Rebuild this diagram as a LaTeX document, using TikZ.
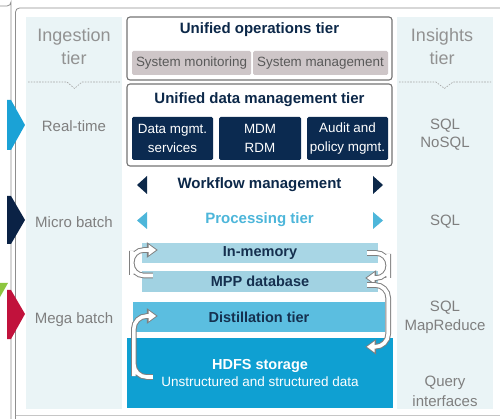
\documentclass[tikz,border=0pt]{standalone}
\usepackage{fontspec}
\setmainfont{Liberation Sans}
\usetikzlibrary{calc,arrows.meta}

\definecolor{panelbg}{HTML}{EAF4F6}
\definecolor{lblgray}{HTML}{7F7F7F}
\definecolor{navytxt}{HTML}{0C2849}
\definecolor{dknavy}{HTML}{0B2A50}
\definecolor{opsgray}{HTML}{CEC6C8}
\definecolor{opstxt}{HTML}{595959}
\definecolor{boxline}{HTML}{747474}
\definecolor{proccyan}{HTML}{4DB6DA}
\definecolor{barlight}{HTML}{A8D6E5}
\definecolor{barmpp}{HTML}{A1D2E2}
\definecolor{bardist}{HTML}{5BBEE0}
\definecolor{barhdfs}{HTML}{0FA0D2}
\definecolor{bartxt}{HTML}{15304F}
\definecolor{chcyan}{HTML}{1BA2D6}
\definecolor{chnavy}{HTML}{0A2245}
\definecolor{chred}{HTML}{C1123C}
\definecolor{chgreen}{HTML}{8DC63F}
\definecolor{framegray}{HTML}{8E8E8E}
\definecolor{arrowgray}{HTML}{808080}

\newcommand\fsz[2]{\fontsize{#1}{#2}\selectfont}

\tikzset{
  panel/.style={fill=panelbg, draw=none, inner sep=0pt},
  tierhead/.style={text=lblgray!85, font=\fsz{18}{23}, align=center, inner sep=0pt},
  lbl/.style={text=lblgray, font=\fsz{15}{19}, align=center, inner sep=0pt},
  tierbox/.style={draw=boxline, line width=1.1pt, rounded corners=3pt, fill=white, inner sep=0pt},
  ttl/.style={text=navytxt, font=\bfseries\fsz{15}{18}, inner sep=0pt},
  opsbox/.style={fill=opsgray, rounded corners=1.5pt, text=opstxt, font=\fsz{13.4}{16}, inner sep=0pt},
  dkbox/.style={fill=dknavy, rounded corners=1.5pt, text=white, font=\fsz{13.4}{19}, align=center, inner sep=0pt},
  bar/.style={inner sep=0pt, text=bartxt, font=\bfseries\fsz{14.5}{18}},
  divider/.style={draw=lblgray!70, line width=0.6pt, dash pattern=on 1.6pt off 1.2pt},
  hollowout/.style={draw=arrowgray, line width=5.6pt, -{Triangle[length=11pt,width=15pt]}},
  hollowin/.style={draw=white, line width=3.6pt, shorten >=1.7pt, -{Triangle[length=7.6pt,width=10.6pt]}},
}

\begin{document}
\begin{tikzpicture}[x=1pt, y=-1pt]
\useasboundingbox (0,0) rectangle (500,419);
\fill[white] (0,0) rectangle (500,419);

% frame lines
\draw[framegray, line width=0.8pt] (0,6) -- (7,6) arc[start angle=90, end angle=0, radius=4] -- (11,419);
\draw[framegray, line width=0.8pt, rounded corners=4pt] (15.5,419) -- (15.5,8) -- (510,8);
\draw[framegray!50, line width=0.6pt] (15.5,415.5) -- (500,415.5);

% side panels
\node[panel, minimum width=96pt, minimum height=392pt] (ingpanel) at (74,213) {};
\node[panel, minimum width=96pt, minimum height=392pt] (inspanel) at (445,213) {};

\node[tierhead] (inghead) at (74,47) {Ingestion\\tier};
\node[tierhead] (inshead) at (442,47) {Insights\\tier};

\draw[divider] (28,82) -- (67,82) -- (74.5,88.5) -- (82,82) -- (120,82);
\draw[divider] (399,82) -- (436,82) -- (444.5,88.5) -- (453,82) -- (491,82);

\node[lbl] (realtime) at (74,126) {Real-time};
\node[lbl] (micro) at (74,222) {Micro batch};
\node[lbl] (mega) at (74,320) {Mega batch};

\node[lbl] (sqlnosql) at (445,135) {SQL\\[-1pt]NoSQL};
\node[lbl] (sql) at (445,222) {SQL};
\node[lbl] (sqlmr) at (445,317) {SQL\\MapReduce};
\node[lbl] (query) at (445,391) {Query\\[1pt]interfaces};

% unified operations tier
\node[tierbox, minimum width=265pt, minimum height=63pt] (ops) at (259.5,48.5) {};
\node[ttl] (opstitle) at (259.5,30) {Unified operations tier};
\node[opsbox, minimum width=119pt, minimum height=24pt] (sysmon) at (191.5,63) {System monitoring};
\node[opsbox, minimum width=135pt, minimum height=24pt] (sysman) at (320.5,63) {System management};

% unified data management tier
\node[tierbox, minimum width=265pt, minimum height=82pt] (dm) at (259.5,125) {};
\node[ttl] (dmtitle) at (259.5,100) {Unified data management tier};
\node[dkbox, minimum width=81pt, minimum height=43pt] (dms) at (172.5,138.5) {Data mgmt.\\services};
\node[dkbox, minimum width=82pt, minimum height=43pt] (mdm) at (260,138.5) {MDM\\RDM};
\node[dkbox, minimum width=81pt, minimum height=43pt] (audit) at (347.5,138.5) {Audit and\\policy mgmt.};

% workflow and processing rows
\node[ttl] (workflow) at (259.5,184.5) {Workflow management};
\fill[navytxt] (147,176) -- (137,185) -- (147,194) -- cycle;
\fill[navytxt] (373,176) -- (383,185) -- (373,194) -- cycle;

\node[ttl, text=proccyan] (processing) at (259.5,219.5) {Processing tier};
\fill[proccyan] (147,212) -- (137,220.5) -- (147,229) -- cycle;
\fill[proccyan] (373,212) -- (383,220.5) -- (373,229) -- cycle;

% storage and compute layers
\node[bar, fill=barlight, minimum width=236pt, minimum height=20pt] (inmem) at (260,253) {In-memory};
\node[bar, fill=barmpp, minimum width=236pt, minimum height=21pt] (mpp) at (260,281.5) {MPP database};
\node[bar, fill=bardist, minimum width=252pt, minimum height=30pt] (dist) at (259,317) {Distillation tier};
\node[bar, fill=barhdfs, minimum width=266pt, minimum height=70pt, text=white, align=center,
      font=\fsz{13.5}{17}] (hdfs) at (260,373) {\bfseries\fsz{14.5}{17}HDFS storage\\Unstructured and structured data};

% data movement between layers
\coordinate (l1t) at ($(mpp.west)+(11,-6)$);
\coordinate (l1h) at ($(inmem.west)+(16,-3)$);
\coordinate (l1b) at ($(inmem.west)+(-10,10)$);
\coordinate (r1t) at ($(inmem.east)+(-11,0)$);
\coordinate (r1h) at ($(mpp.east)+(-13,-3.5)$);
\coordinate (r1b) at ($(inmem.east)+(10,13)$);
\coordinate (r2t) at ($(mpp.east)+(-11,3.5)$);
\coordinate (r2h) at ($(hdfs.north east)+(-28,9)$);
\coordinate (r2b) at ($(mpp.east)+(10,30)$);
\coordinate (l2t) at ($(hdfs.west)+(26,4)$);
\coordinate (l2h) at ($(dist.west)+(25,-1)$);
\coordinate (l2b) at ($(hdfs.west)+(7,-10)$);

\foreach \s/\b/\e/\r in {l1t/l1b/l1h/12, r1t/r1b/r1h/12, r2t/r2b/r2h/13, l2t/l2b/l2h/13}{
  \draw[hollowout, rounded corners=\r pt] (\s) -| (\b) |- (\e);
  \draw[hollowin, rounded corners=\r pt] (\s) -| (\b) |- (\e);
}

% ingestion mode markers
\fill[chgreen] (0,283) -- (8,283) -- (0,297) -- cycle;
\fill[chcyan] (7,100) -- (11,100) -- (25,125) -- (11,150) -- (7,150) -- cycle;
\fill[chnavy] (7,196) -- (11,196) -- (25,220) -- (11,244) -- (7,244) -- cycle;
\fill[chred] (7,290) -- (11,290) -- (25,314) -- (11,339) -- (7,339) -- cycle;
\end{tikzpicture}
\end{document}
